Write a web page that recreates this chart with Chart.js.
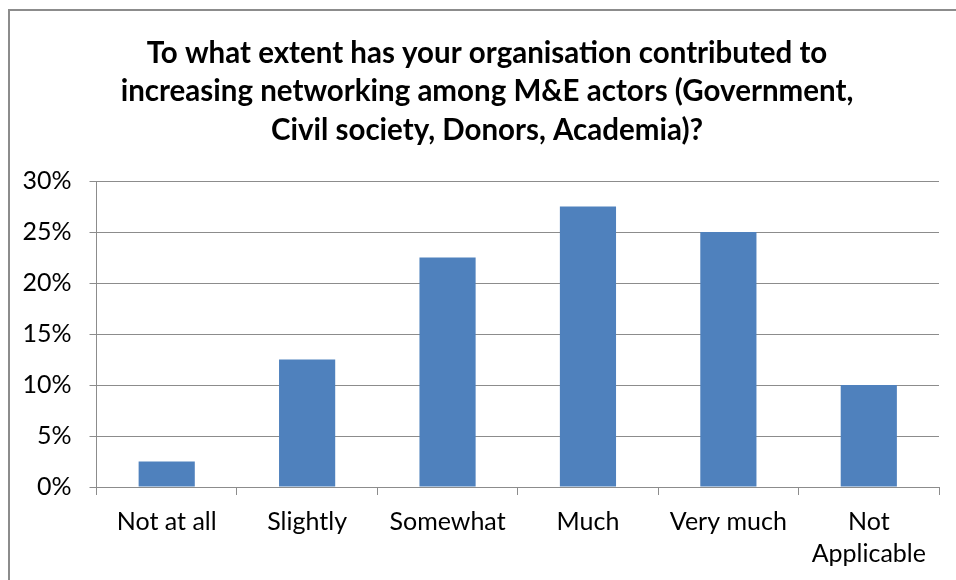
<!DOCTYPE html>
<html>
<head>
<meta charset="utf-8">
<title>Networking among M&amp;E actors</title>
<script src="https://cdn.jsdelivr.net/npm/chart.js@4.4.1/dist/chart.umd.min.js"></script>
<style>
    html, body { margin: 0; padding: 0; overflow: hidden; background: #fff; width: 956px; height: 580px; }
    .chart-box {
        position: absolute;
        left: 8px;
        top: 9px;
        width: 956px;
        height: 616px;
        border: 2px solid #8c8c8c;
        background: #fff;
    }
</style>
</head>
<body>
<div class="chart-box">
    <canvas id="barChart" width="956" height="616"></canvas>
</div>
<script>
// Survey answers
var categories = ['Not at all', 'Slightly', 'Somewhat', 'Much', 'Very much', ['Not', 'Applicable']];
var percentValues = [2.5, 12.5, 22.5, 27.5, 25, 10];
var yTicks = [0, 5, 10, 15, 20, 25, 30];
var titleLines = [
    'To what extent has your organisation contributed to',
    'increasing networking among M&E actors (Government,',
    'Civil society, Donors, Academia)?'
];

var gridColor = '#8c8c8c';
var fontName = 'Lato, "Open Sans", sans-serif';

// Title is centred on the whole frame, not on the plot, so draw it by hand
var frameTitle = {
    id: 'frameTitle',
    afterDraw: function(chart) {
        var c = chart.ctx;
        c.save();
        c.fillStyle = '#000';
        c.font = 'bold 29.5px ' + fontName;
        c.textAlign = 'center';
        c.textBaseline = 'middle';
        titleLines.forEach(function(line, i) {
            c.fillText(line, 477, 23 + 38.5 * (i + 0.5));
        });
        c.restore();
    }
};

var ctx1 = document.getElementById('barChart').getContext('2d');
window.myChart1 = new Chart(ctx1, {
    type: 'bar',
    data: {
        labels: categories,
        datasets: [{
            label: 'Percent',
            data: percentValues,
            backgroundColor: '#4f81bd',
            borderWidth: 0,
            barPercentage: 0.4,
            categoryPercentage: 1
        }]
    },
    plugins: [frameTitle],
    options: {
        responsive: false,
        animation: false,
        layout: {
            padding: { left: 0, right: 27, top: 170, bottom: 0 }
        },
        plugins: {
            title: { display: false },
            legend: { display: false },
            tooltip: { enabled: false }
        },
        scales: {
            x: {
                afterFit: function(scale) { scale.height = 140; },
                grid: {
                    offset: true,
                    drawOnChartArea: false,
                    drawTicks: true,
                    tickLength: 8,
                    color: gridColor
                },
                border: { color: gridColor, width: 1 },
                ticks: {
                    color: '#000',
                    padding: 11,
                    maxRotation: 0,
                    font: { family: fontName, size: 25, lineHeight: 1.28 }
                }
            },
            y: {
                min: 0,
                max: 30,
                afterFit: function(scale) { scale.width = 86.5; },
                afterBuildTicks: function(scale) {
                    scale.ticks = yTicks.map(function(v) { return { value: v }; });
                },
                grid: {
                    color: gridColor,
                    tickLength: 7
                },
                border: { color: gridColor, width: 1 },
                ticks: {
                    color: '#000',
                    padding: 18,
                    font: { family: fontName, size: 25 },
                    callback: function(value) { return value + '%'; }
                }
            }
        }
    }
});
</script>
</body>
</html>
